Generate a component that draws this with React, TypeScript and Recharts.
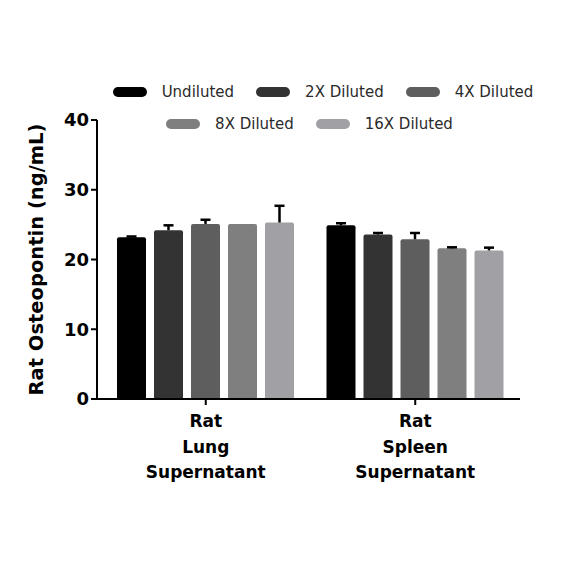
import { Bar, BarChart, Legend, Rectangle, XAxis, YAxis } from "recharts";

const CATEGORIES = [
  ["Rat", "Lung", "Supernatant"],
  ["Rat", "Spleen", "Supernatant"]
];
const SERIES = ["Undiluted", "2X Diluted", "4X Diluted", "8X Diluted", "16X Diluted"];
const COLORS = ["#000000", "#333333", "#5e5e5e", "#7f7f7f", "#a1a1a5"];

// mean values, one per category
const UNDILUTED = [23.2, 24.9];
const DIL_2X = [24.2, 23.6];
const DIL_4X = [25.1, 22.9];
const DIL_8X = [25.1, 21.6];
const DIL_16X = [25.3, 21.3];

// upper error (SD)
const ERR_UNDILUTED = [0.1, 0.3];
const ERR_2X = [0.7, 0.2];
const ERR_4X = [0.6, 0.9];
const ERR_8X = [0.05, 0.15];
const ERR_16X = [2.4, 0.4];

const Y_TICKS = [0, 10, 20, 30, 40];

const VALUES = [UNDILUTED, DIL_2X, DIL_4X, DIL_8X, DIL_16X];
const ERRORS = [ERR_UNDILUTED, ERR_2X, ERR_4X, ERR_8X, ERR_16X];

const data = CATEGORIES.map((lines, i) => {
  const row: Record<string, string | number | string[]> = { name: lines.join(" "), lines };
  SERIES.forEach((s, k) => {
    row[`v${k}`] = VALUES[k][i];
    row[`e${k}`] = ERRORS[k][i];
  });
  return row;
});

function barWithError(k: number) {
  return (props: any) => {
    const { x, y, width, height, fill, payload } = props;
    const v = Number(payload[`v${k}`]);
    const err = Number(payload[`e${k}`]);
    const errPx = v > 0 ? (err * height) / v : 0;
    const cx = x + width / 2;
    return (
      <g>
        <Rectangle x={x} y={y} width={width} height={height} fill={fill} radius={[2, 2, 0, 0]} />
        {errPx > 0.5 && (
          <g stroke="#000" strokeWidth={2.5}>
            <line x1={cx} x2={cx} y1={y} y2={y - errPx} />
            <line x1={cx - 5} x2={cx + 5} y1={y - errPx} y2={y - errPx} />
          </g>
        )}
      </g>
    );
  };
}

function CategoryTick({ x, y, payload, index }: any) {
  const lines = CATEGORIES[index] ?? [payload.value];
  return (
    <text x={x} y={y} textAnchor="middle" fontSize={17} fontWeight="bold" fill="#000">
      {lines.map((l, i) => (
        <tspan key={i} x={x} dy={i === 0 ? 20 : 25.5}>
          {l}
        </tspan>
      ))}
    </text>
  );
}

function LegendItem({ k }: { k: number }) {
  return (
    <div style={{ display: "flex", alignItems: "center", margin: "0 11px" }}>
      <div style={{ width: 34, height: 10, borderRadius: 5, background: COLORS[k], marginRight: 15 }} />
      <span style={{ fontSize: 15, color: "#2a2a2a" }}>{SERIES[k]}</span>
    </div>
  );
}

function renderLegend() {
  const rows = [
    [0, 1, 2],
    [3, 4]
  ];
  return (
    <div style={{ height: 64 }}>
      {rows.map((r, i) => (
        <div
          key={i}
          style={{
            height: 32,
            display: "flex",
            justifyContent: "center",
            alignItems: "center",
            paddingLeft: i === 0 ? 62 : 35
          }}
        >
          {r.map((k) => (
            <LegendItem key={k} k={k} />
          ))}
        </div>
      ))}
    </div>
  );
}

export default function App() {
  return (
    <div style={{ position: "absolute", left: 0, top: 0, fontFamily: "'DejaVu Sans', sans-serif", background: "#fff" }}>
      <BarChart
        width={584}
        height={584}
        data={data}
        margin={{ top: 56, right: 64, bottom: 105, left: 0 }}
        barSize={29}
        barGap={8}
      >
        <Legend verticalAlign="top" content={renderLegend} wrapperStyle={{ top: 76, left: 0, width: 584 }} />
        <XAxis
          dataKey="name"
          tick={<CategoryTick />}
          tickSize={6}
          height={80}
          padding={{ left: 4, right: 0 }}
          axisLine={{ stroke: "#000", strokeWidth: 2 }}
          tickLine={{ stroke: "#000", strokeWidth: 2 }}
          interval={0}
        />
        <YAxis
          domain={[0, 40]}
          ticks={Y_TICKS}
          width={97}
          tickSize={6}
          axisLine={{ stroke: "#000", strokeWidth: 2 }}
          tickLine={{ stroke: "#000", strokeWidth: 2 }}
          tick={{ fontSize: 18, fontWeight: "bold", fill: "#000" }}
          label={{
            value: "Rat Osteopontin (ng/mL)",
            angle: -90,
            position: "insideLeft",
            offset: 36,
            style: { fontSize: 19.5, fontWeight: "bold", fill: "#000", textAnchor: "middle" }
          }}
        />
        {SERIES.map((s, k) => (
          <Bar
            key={s}
            dataKey={`v${k}`}
            name={s}
            fill={COLORS[k]}
            isAnimationActive={false}
            shape={barWithError(k)}
          />
        ))}
      </BarChart>
    </div>
  );
}
